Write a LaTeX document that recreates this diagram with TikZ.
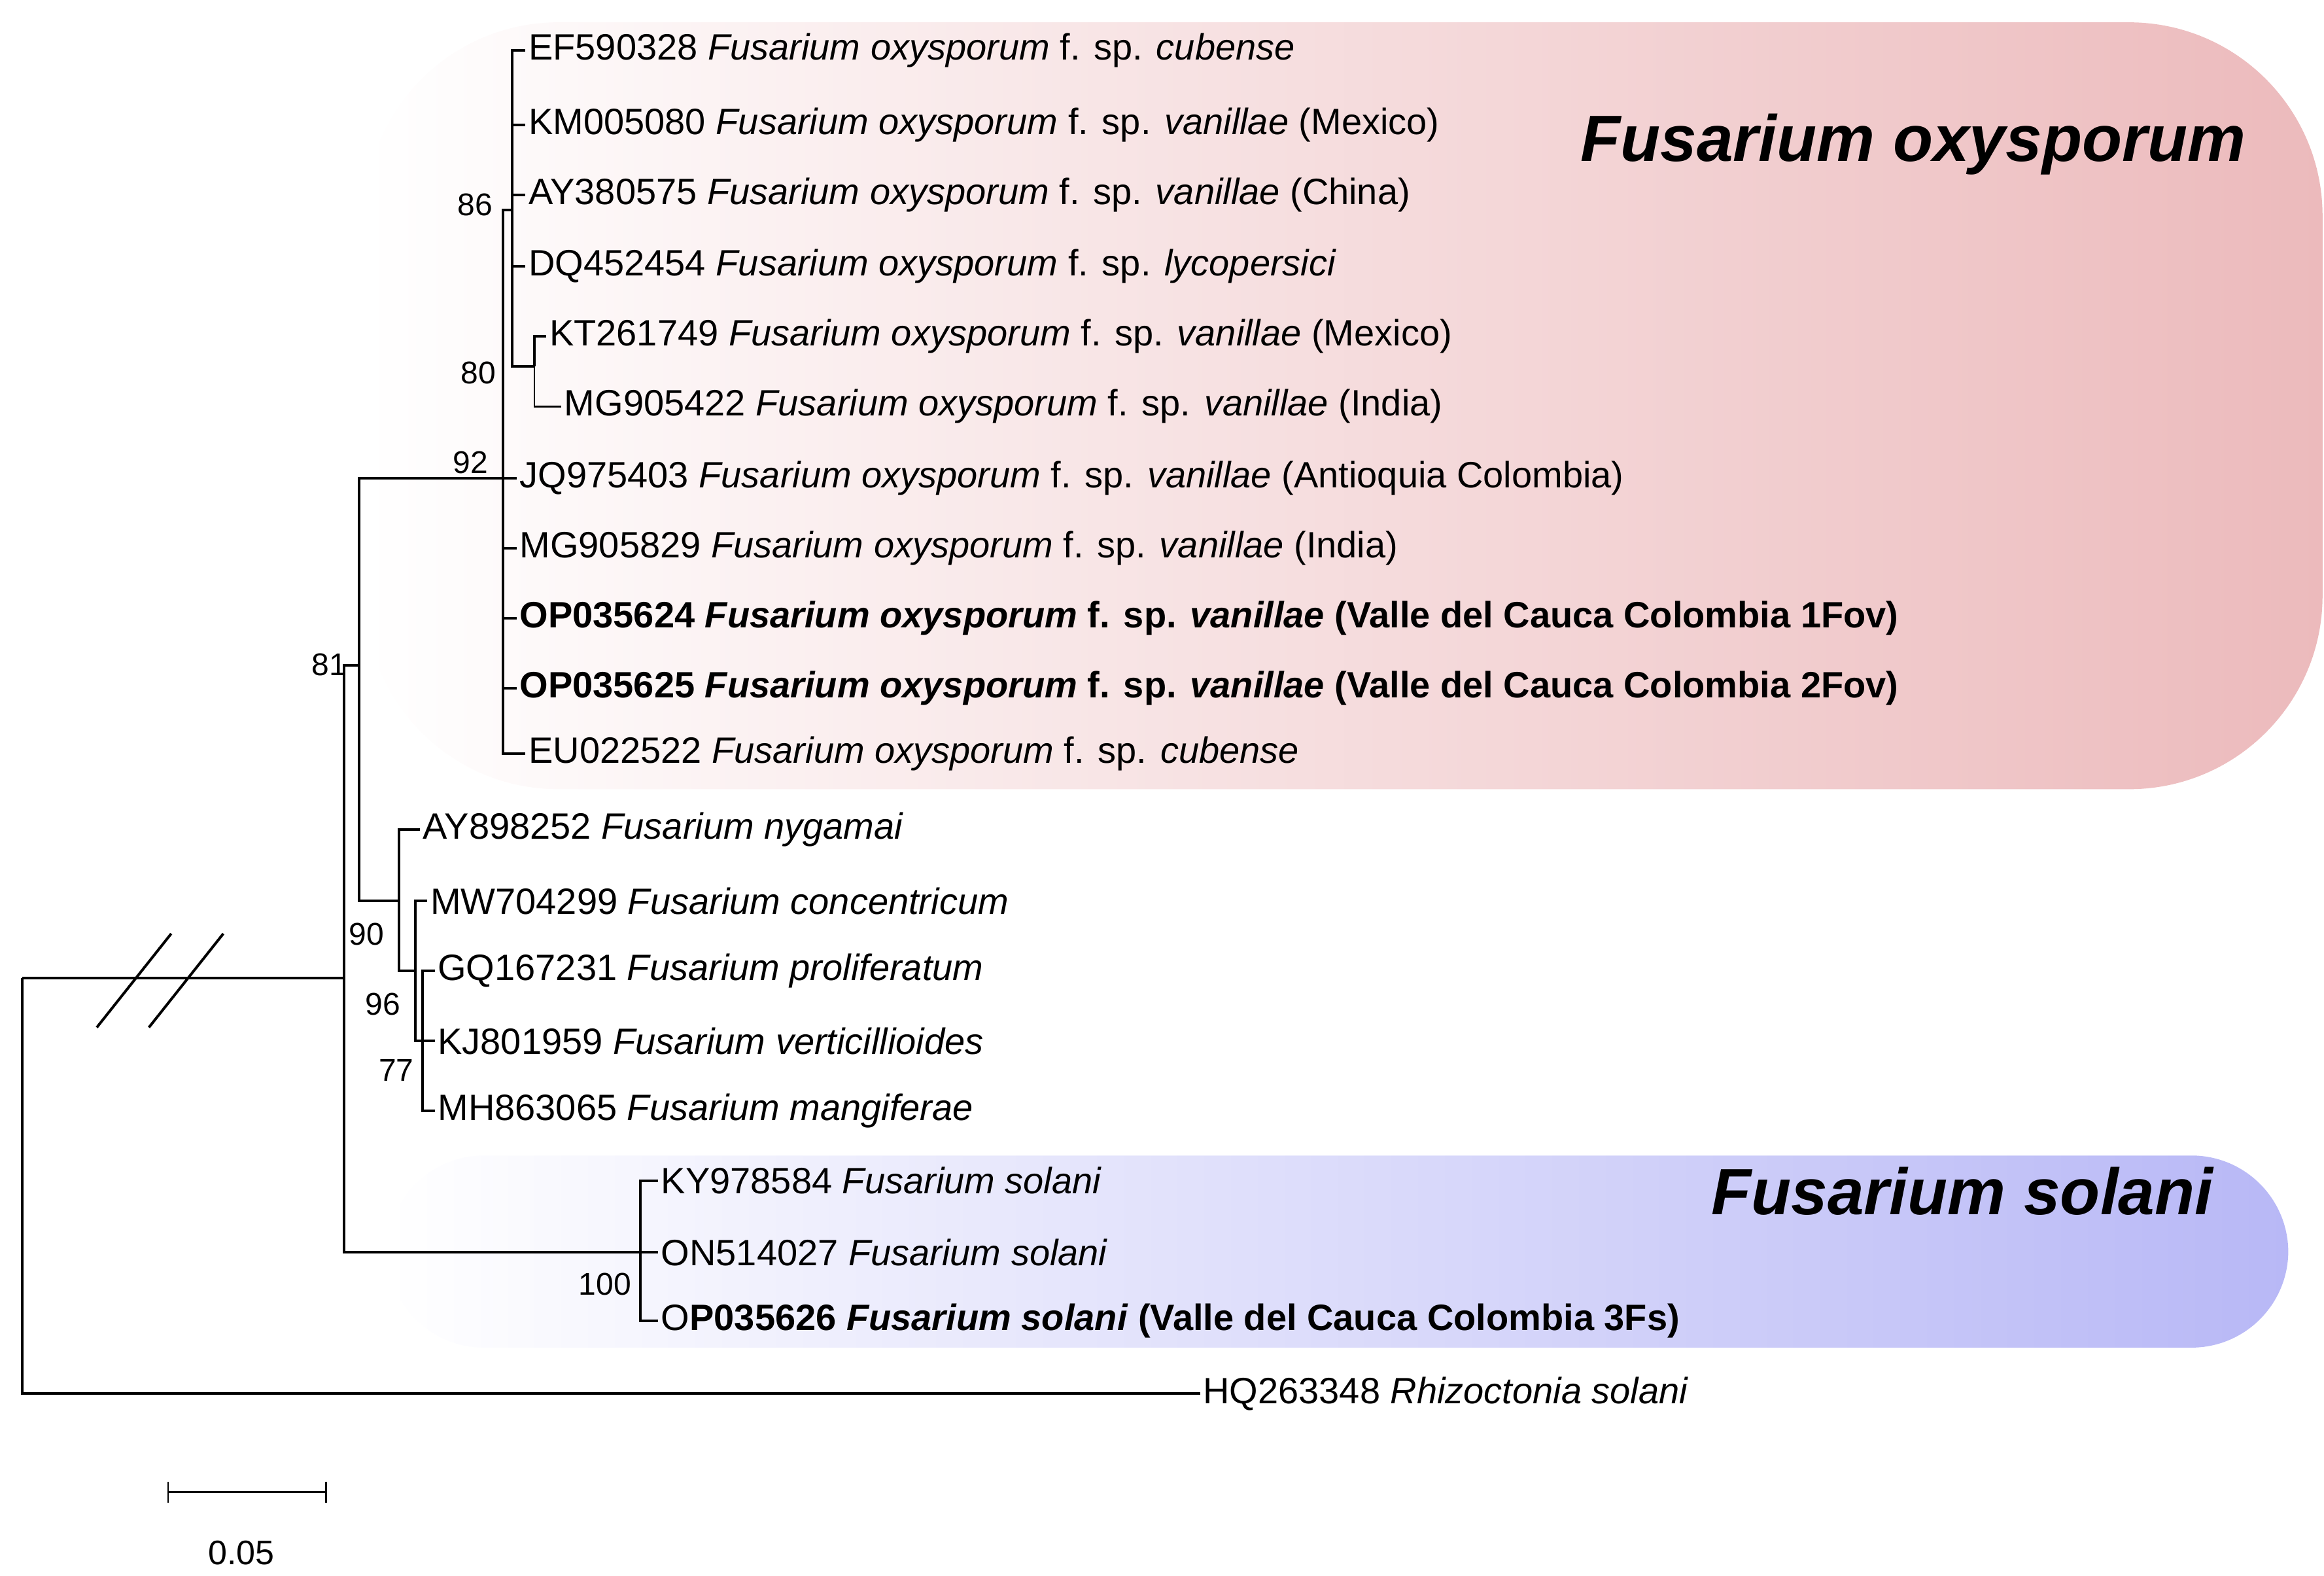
\documentclass[tikz,border=0pt]{standalone}
\usepackage{fontspec}
\setmainfont{Liberation Sans}
\usetikzlibrary{calc}
\definecolor{oxyPink}{RGB}{236,186,188}
\definecolor{solBlue}{RGB}{184,184,246}
\newcommand{\fus}[1]{\textit{Fusarium #1}}
\tikzset{
    leaf/.style={anchor=west, inner sep=1pt, font=\fontsize{14}{16}\selectfont},
    boot/.style={anchor=south east, inner sep=1pt, font=\fontsize{12}{14}\selectfont},
    branch/.style={black, line width=1pt},
    twig/.style={black, line width=0.6pt},
    clade/.style={font=\fontsize{25}{28}\selectfont\bfseries\itshape}
}
\begin{document}
\begin{tikzpicture}[x=0.2mm, y=-0.2mm]
\useasboundingbox (0,0) rectangle (1561,1058);

% Clade backgrounds
\shade [left color=white, right color=oxyPink, rounded corners=2.6cm] (245,15) rectangle (1560,530);
\shade [left color=white, right color=solBlue, rounded corners=1.3cm] (260,776) rectangle (1537,905);
\node [clade] (oxyTitle) at (1285,97) {Fusarium oxysporum};
\node [clade] (solTitle) at (1318,800) {Fusarium solani};

% Internal nodes
\coordinate (R) at (15,657);
\coordinate (A) at (231,657);
\coordinate (B) at (241,447);
\coordinate (C) at (338,321);
\coordinate (E) at (344,141);
\coordinate (F) at (359,246);
\coordinate (D) at (268,605);
\coordinate (G) at (279,652);
\coordinate (H) at (284,699);
\coordinate (S) at (430,841);

% Leaves
\node [leaf] (ef) at (353,34) {EF590328 \fus{oxysporum} f. sp. \textit{cubense}};
\node [leaf] (km) at (353,84) {KM005080 \fus{oxysporum} f. sp. \textit{vanillae} (Mexico)};
\node [leaf] (ay) at (353,131) {AY380575 \fus{oxysporum} f. sp. \textit{vanillae} (China)};
\node [leaf] (dq) at (353,179) {DQ452454 \fus{oxysporum} f. sp. \textit{lycopersici}};
\node [leaf] (kt) at (367,226) {KT261749 \fus{oxysporum} f. sp. \textit{vanillae} (Mexico)};
\node [leaf] (mga) at (377,273) {MG905422 \fus{oxysporum} f. sp. \textit{vanillae} (India)};
\node [leaf] (jq) at (347,321) {JQ975403 \fus{oxysporum} f. sp. \textit{vanillae} (Antioquia Colombia)};
\node [leaf] (mgb) at (347,368) {MG905829 \fus{oxysporum} f. sp. \textit{vanillae} (India)};
\node [leaf] (opa) at (347,415) {\textbf{OP035624 \fus{oxysporum} f. sp. \textit{vanillae} (Valle del Cauca Colombia 1Fov)}};
\node [leaf] (opb) at (347,462) {\textbf{OP035625 \fus{oxysporum} f. sp. \textit{vanillae} (Valle del Cauca Colombia 2Fov)}};
\node [leaf] (eu) at (353,506) {EU022522 \fus{oxysporum} f. sp. \textit{cubense}};
\node [leaf] (ayb) at (282,557) {AY898252 \fus{nygamai}};
\node [leaf] (mw) at (287,605) {MW704299 \fus{concentricum}};
\node [leaf] (gq) at (292,652) {GQ167231 \fus{proliferatum}};
\node [leaf] (kj) at (292,699) {KJ801959 \fus{verticillioides}};
\node [leaf] (mh) at (292,746) {MH863065 \fus{mangiferae}};
\node [leaf] (ky) at (442,793) {KY978584 \fus{solani}};
\node [leaf] (on) at (442,841) {ON514027 \fus{solani}};
\node [leaf] (opc) at (442,887) {O\textbf{P035626 \fus{solani} (Valle del Cauca Colombia 3Fs)}};
\node [leaf] (hq) at (806,936) {HQ263348 \textit{Rhizoctonia solani}};

% Branches
\draw [branch] (R) -- (A);
\draw [branch] (R) |- (hq.west);
\draw [branch] (A) |- (B);
\draw [branch] (A) |- (S);
\draw [branch] (B) |- (C);
\draw [branch] (B) |- (D);
\draw [branch] (C) |- (E);
\foreach \t in {jq,mgb,opa,opb,eu} \draw [branch] (C) |- (\t.west);
\foreach \t in {ef,km,ay,dq} \draw [branch] (E) |- (\t.west);
\draw [branch] (E) |- (F);
\draw [branch] (F) |- (kt.west);
\draw [twig] (F) |- (mga.west);
\draw [branch] (D) |- (ayb.west);
\draw [branch] (D) |- (G);
\draw [branch] (G) |- (mw.west);
\draw [branch] (G) |- (H);
\foreach \t in {gq,kj,mh} \draw [branch] (H) |- (\t.west);
\foreach \t in {ky,on,opc} \draw [branch] (S) |- (\t.west);

% Break marks
\draw [branch] (65,690) -- (115,627);
\draw [branch] (100,690) -- (150,627);

% Bootstrap values
\node [boot] (b86) at (333,147) {86};
\node [boot] (b80) at (335,260) {80};
\node [boot] (b92) at (330,320) {92};
\node [boot] (b81) at (235,456) {81};
\node [boot] (b90) at (260,637) {90};
\node [boot] (b96) at (271,684) {96};
\node [boot] (b77) at (280,728) {77};
\node [boot] (b100) at (426,872) {100};

% Scale bar
\coordinate (sL) at (113,1002);
\coordinate (sR) at (219,1002);
\draw [twig] (sL) -- (sR);
\draw [twig] ($(sL)+(0,-7)$) -- ($(sL)+(0,7)$);
\draw [twig] ($(sR)+(0,-7)$) -- ($(sR)+(0,7)$);
\node [font=\fontsize{13}{15}\selectfont] (sLab) at (162,1043) {0.05};
\end{tikzpicture}
\end{document}
